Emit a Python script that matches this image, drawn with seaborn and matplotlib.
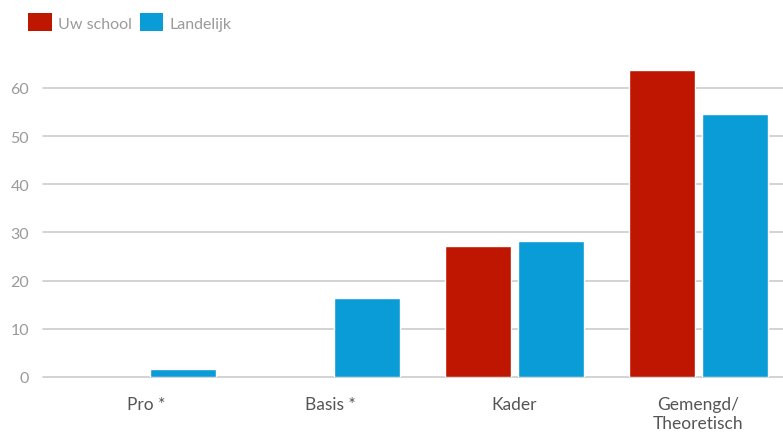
import numpy as np
import pandas as pd
import matplotlib
matplotlib.use("Agg")
import matplotlib.pyplot as plt
import seaborn as sns
from matplotlib.patches import Patch

# Data
categories = ["Pro *", "Basis *", "Kader", "Gemengd/\nTheoretisch"]
uw_school = [np.nan, np.nan, 27.2, 63.7]
landelijk = [1.7, 16.4, 28.2, 54.6]
series_names = ["Uw school", "Landelijk"]
colors = ["#BE1600", "#0A9CD6"]

df = pd.DataFrame({
    "categorie": categories * 2,
    "waarde": uw_school + landelijk,
    "reeks": [series_names[0]] * len(categories) + [series_names[1]] * len(categories),
})

sns.set_style("white")
plt.rcParams["font.family"] = ["Lato", "DejaVu Sans"]

fig = plt.figure(figsize=(7.83, 4.35), dpi=100)
ax = fig.add_axes([43 / 783, (435 - 378) / 435, 740 / 783, (378 - 60) / 435])

sns.barplot(
    data=df, x="categorie", y="waarde", hue="reeks",
    hue_order=series_names, palette=colors, order=categories,
    width=0.8, gap=0.1, saturation=1, legend=False, ax=ax,
)

ax.set_xlim(-0.5625, 3.459)
ax.set_ylim(0, 66)
ax.set_yticks([0, 10, 20, 30, 40, 50, 60])
ax.yaxis.grid(True, color="#cccccc", linewidth=1.2)
for line in ax.get_ygridlines():
    line.set_clip_on(False)
ax.set_axisbelow(True)
for s in ax.spines.values():
    s.set_visible(False)
ax.set_xlabel("")
ax.set_ylabel("")
ax.tick_params(axis="y", length=0, pad=10, labelsize=11.5, labelcolor="#9a9a9a")
ax.tick_params(axis="x", length=0, pad=14, labelsize=12.5, labelcolor="#555555")

handles = [Patch(facecolor=c, edgecolor="none") for c in colors]
fig.legend(
    handles, series_names, loc="upper left", bbox_to_anchor=(0.018, 1.0),
    ncol=2, frameon=False, handlelength=1.45, handleheight=1.35,
    handletextpad=0.4, columnspacing=0.5, fontsize=11.5, labelcolor="#9a9a9a",
)

fig.savefig("out.png", dpi=100)
